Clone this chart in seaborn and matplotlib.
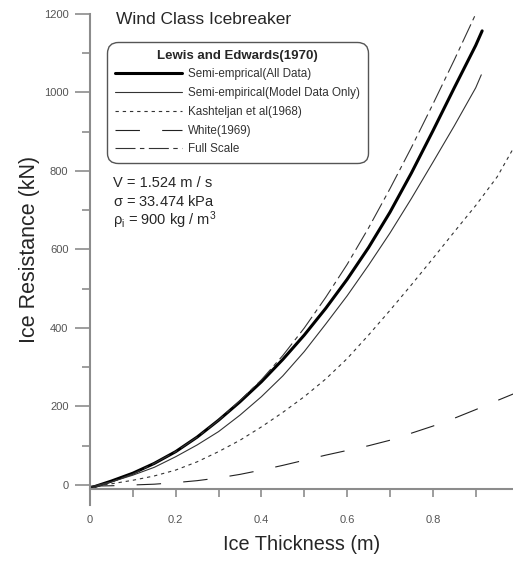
import numpy as np
import pandas as pd
import matplotlib
matplotlib.use("Agg")
import matplotlib.pyplot as plt
from matplotlib.ticker import MultipleLocator, FuncFormatter
import seaborn as sns

# dados (espessura em m, resistencia em kN)
x_all = [0, 0.05, 0.1, 0.15, 0.2, 0.25, 0.3, 0.35, 0.4, 0.45, 0.5, 0.55, 0.6,
         0.65, 0.7, 0.75, 0.8, 0.85, 0.9, 0.915]
semi_all = [-8, 10, 30, 55, 85, 122, 165, 212, 263, 320, 382, 450, 524,
            605, 695, 795, 902, 1012, 1120, 1157]

x_model = [0, 0.05, 0.1, 0.15, 0.2, 0.25, 0.3, 0.35, 0.4, 0.45, 0.5, 0.55, 0.6,
           0.65, 0.7, 0.75, 0.8, 0.85, 0.9, 0.913]
semi_model = [-5, 8, 25, 45, 72, 102, 136, 178, 225, 278, 340, 410, 482,
              560, 642, 730, 822, 915, 1012, 1045]

x_long = [0, 0.05, 0.1, 0.15, 0.2, 0.25, 0.3, 0.35, 0.4, 0.45, 0.5, 0.55, 0.6,
          0.65, 0.7, 0.75, 0.8, 0.85, 0.9, 0.95, 0.99]
kashteljan = [-5, 3, 12, 23, 38, 59, 85, 114, 148, 185, 225, 270, 322,
              382, 445, 510, 577, 645, 712, 785, 862]
white = [-3, -2, 0, 2, 6, 11, 18, 27, 38, 50, 63, 76, 88,
         100, 114, 132, 150, 170, 192, 215, 233]

x_full = [0, 0.05, 0.1, 0.15, 0.2, 0.25, 0.3, 0.35, 0.4, 0.45, 0.5, 0.55, 0.6,
          0.65, 0.7, 0.75, 0.8, 0.85, 0.9]
full_scale = [-10, 8, 28, 55, 85, 122, 165, 215, 268, 330, 400, 478, 562,
              655, 755, 860, 970, 1083, 1200]

sns.set_style("white")
plt.rcParams['font.family'] = ['Liberation Sans', 'DejaVu Sans']
plt.rcParams['mathtext.fontset'] = 'custom'
plt.rcParams['mathtext.rm'] = 'Liberation Sans'
plt.rcParams['mathtext.it'] = 'Liberation Sans'

fig = plt.figure(figsize=(5.13, 5.61), dpi=100)
ax = fig.add_axes([90 / 513, 1 - 504.6 / 561, 423 / 513, 490.6 / 561])

sns.lineplot(x=x_all, y=semi_all, ax=ax, color="black", lw=2.2,
             label="Semi-emprical(All Data)")
sns.lineplot(x=x_model, y=semi_model, ax=ax, color="#333333", lw=0.8,
             label="Semi-empirical(Model Data Only)")
sns.lineplot(x=x_long, y=kashteljan, ax=ax, color="#333333", lw=0.8,
             linestyle=(0, (3, 3.5)), label="Kashteljan et al(1968)")
sns.lineplot(x=x_long, y=white, ax=ax, color="#222222", lw=0.8,
             linestyle=(0, (22, 20)), label="White(1969)")
sns.lineplot(x=x_full, y=full_scale, ax=ax, color="#333333", lw=0.8,
             linestyle=(0, (18, 4, 4, 4)), label="Full Scale")

ax.set_xlim(0, 0.987)
ax.set_ylim(-50, 1200)

# eixos
for s in ["top", "right"]:
    ax.spines[s].set_visible(False)
ax.spines["bottom"].set_position(("data", -10))
for s in ["left", "bottom"]:
    ax.spines[s].set_color("#8c8c8c")
    ax.spines[s].set_linewidth(1.5)

ax.xaxis.set_major_locator(MultipleLocator(0.2))
ax.xaxis.set_minor_locator(MultipleLocator(0.1))
ax.yaxis.set_major_locator(MultipleLocator(200))
ax.yaxis.set_minor_locator(MultipleLocator(100))
fmt = FuncFormatter(lambda v, p: f"{v:g}")
ax.xaxis.set_major_formatter(fmt)
ax.yaxis.set_major_formatter(fmt)

ax.tick_params(axis="x", which="both", direction="out", length=6, width=1.2,
               color="#8c8c8c", labelsize=8, labelcolor="#555555", pad=13,
               bottom=True)
ax.tick_params(axis="y", which="major", direction="out", length=10.5, width=1.2,
               color="#8c8c8c", labelsize=8, labelcolor="#555555", pad=5, left=True)
ax.tick_params(axis="y", which="minor", direction="out", length=6, width=1.2,
               color="#8c8c8c", left=True)

ax.set_xlabel("Ice Thickness (m)", fontsize=14.3, labelpad=7)
ax.set_ylabel("Ice Resistance (kN)", fontsize=15.5)
ax.yaxis.set_label_coords(-0.118, 0.52)

leg = ax.legend(title="Lewis and Edwards(1970)", loc="upper left",
                bbox_to_anchor=(107 / 513, 1 - 42 / 561), bbox_transform=fig.transFigure,
                fontsize=8.4, title_fontproperties={"weight": "bold", "size": 9.5},
                frameon=True, fancybox=True, framealpha=1, edgecolor="#555555",
                handlelength=5.8, handletextpad=0.5, labelspacing=0.58,
                borderpad=0.65, borderaxespad=0)
leg.get_frame().set_linewidth(1.0)
leg.get_frame().set_boxstyle("round", pad=0, rounding_size=0.9)
for t in leg.get_texts():
    t.set_color("#333333")

fig.text(116 / 513, 1 - 20 / 561, "Wind Class Icebreaker", fontsize=12.5, va="center")
fig.text(113 / 513, 1 - 183 / 561, "V = 1.524 m / s", fontsize=10.5, va="center")
fig.text(113 / 513, 1 - 201 / 561, r"$\sigma$ = 33.474 kPa", fontsize=10.5, va="center")
fig.text(113 / 513, 1 - 220 / 561, r"$\rho_{\mathrm{i}}$ = 900 kg / m$^{3}$", fontsize=10.5,
         va="center")

fig.savefig("out.png", dpi=100)
